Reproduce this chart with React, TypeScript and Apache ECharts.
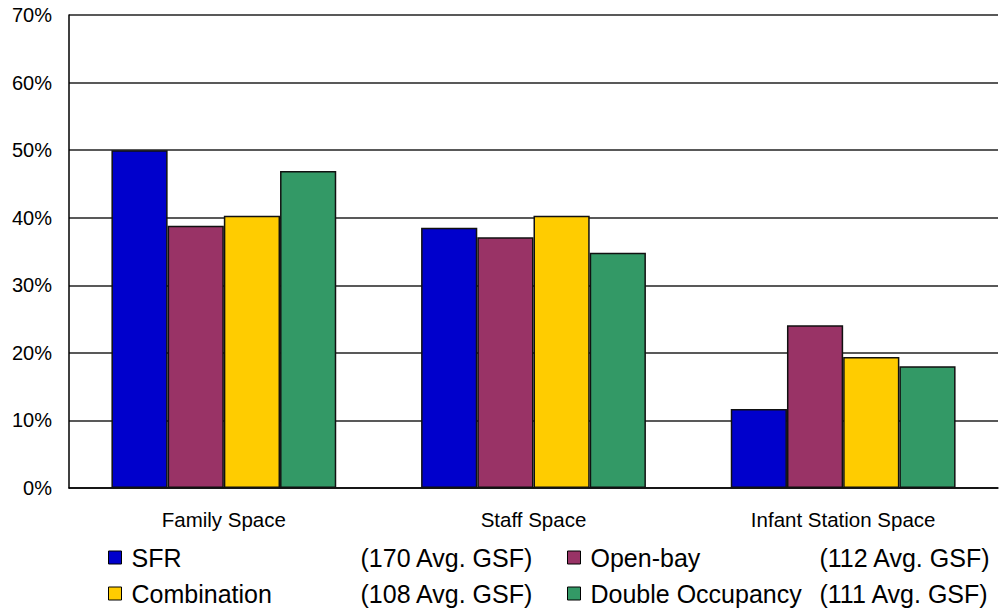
import React, { useEffect, useRef } from "react";
import * as echarts from "echarts";

const categories = ["Family Space", "Staff Space", "Infant Station Space"];
const seriesNames = ["SFR", "Open-bay", "Combination", "Double Occupancy"];
const avgGsf = [170, 112, 108, 111];
const sfr = [50.0, 38.5, 11.7];
const openBay = [38.8, 37.1, 24.1];
const combination = [40.3, 40.3, 19.4];
const doubleOcc = [46.9, 34.8, 18.0];
const yTicks = [0, 10, 20, 30, 40, 50, 60, 70];

const colors = ["#0000CC", "#993366", "#FFCC00", "#339966"];
const FONT = "'Liberation Sans', Arial, sans-serif";

export default function App() {
  const ref = useRef<HTMLDivElement>(null);
  useEffect(() => {
    if (!ref.current) return;
    const chart = echarts.init(ref.current, undefined, { renderer: "svg" });
    const values = [sfr, openBay, combination, doubleOcc];
    const legendPos = [
      { left: 108, top: 545 },
      { left: 567, top: 545 },
      { left: 108, top: 581 },
      { left: 567, top: 581 },
    ];
    const option: any = {
      animation: false,
      backgroundColor: "#ffffff",
      textStyle: { fontFamily: FONT },
      grid: { left: 69, right: 3, top: 15, bottom: 124, containLabel: false },
      xAxis: {
        type: "category",
        data: categories,
        axisLine: { show: true, lineStyle: { color: "#000", width: 1.5 } },
        axisTick: { show: false },
        axisLabel: { fontSize: 20.5, color: "#000", margin: 21, fontFamily: FONT },
      },
      yAxis: {
        type: "value",
        min: yTicks[0],
        max: yTicks[yTicks.length - 1],
        interval: 10,
        axisLine: { show: true, lineStyle: { color: "#000", width: 1.5 } },
        axisTick: { show: false },
        axisLabel: { fontSize: 20, color: "#000", margin: 17, formatter: "{value}%", fontFamily: FONT },
        splitLine: { show: true, lineStyle: { color: "#222", width: 1.6 } },
      },
      legend: seriesNames.map((name, i) => ({
        data: [name],
        left: legendPos[i].left,
        top: legendPos[i].top,
        orient: "horizontal",
        icon: "rect",
        itemWidth: 13,
        itemHeight: 13,
        padding: 0,
        selectedMode: false,
        itemStyle: { borderColor: "#000", borderWidth: 1 },
        textStyle: {
          fontSize: 25,
          color: "#000",
          fontFamily: FONT,
          padding: [0, 0, 0, 5],
          rich: {
            n: { fontSize: 25, width: 229, fontFamily: FONT, color: "#000" },
            g: { fontSize: 25, fontFamily: FONT, color: "#000" },
          },
        },
        formatter: (n: string) => `{n|${n}}{g|(${avgGsf[i]} Avg. GSF)}`,
      })),
      series: seriesNames.map((name, i) => ({
        name,
        type: "bar",
        data: values[i],
        barGap: "0%",
        barCategoryGap: "27.4%",
        itemStyle: { color: colors[i], borderColor: "#111", borderWidth: 1.5 },
      })),
    };
    chart.setOption(option);
    return () => chart.dispose();
  }, []);
  return (
    <div
      ref={ref}
      style={{ position: "fixed", left: 0, top: 0, width: 1001, height: 612, background: "#fff" }}
    />
  );
}
